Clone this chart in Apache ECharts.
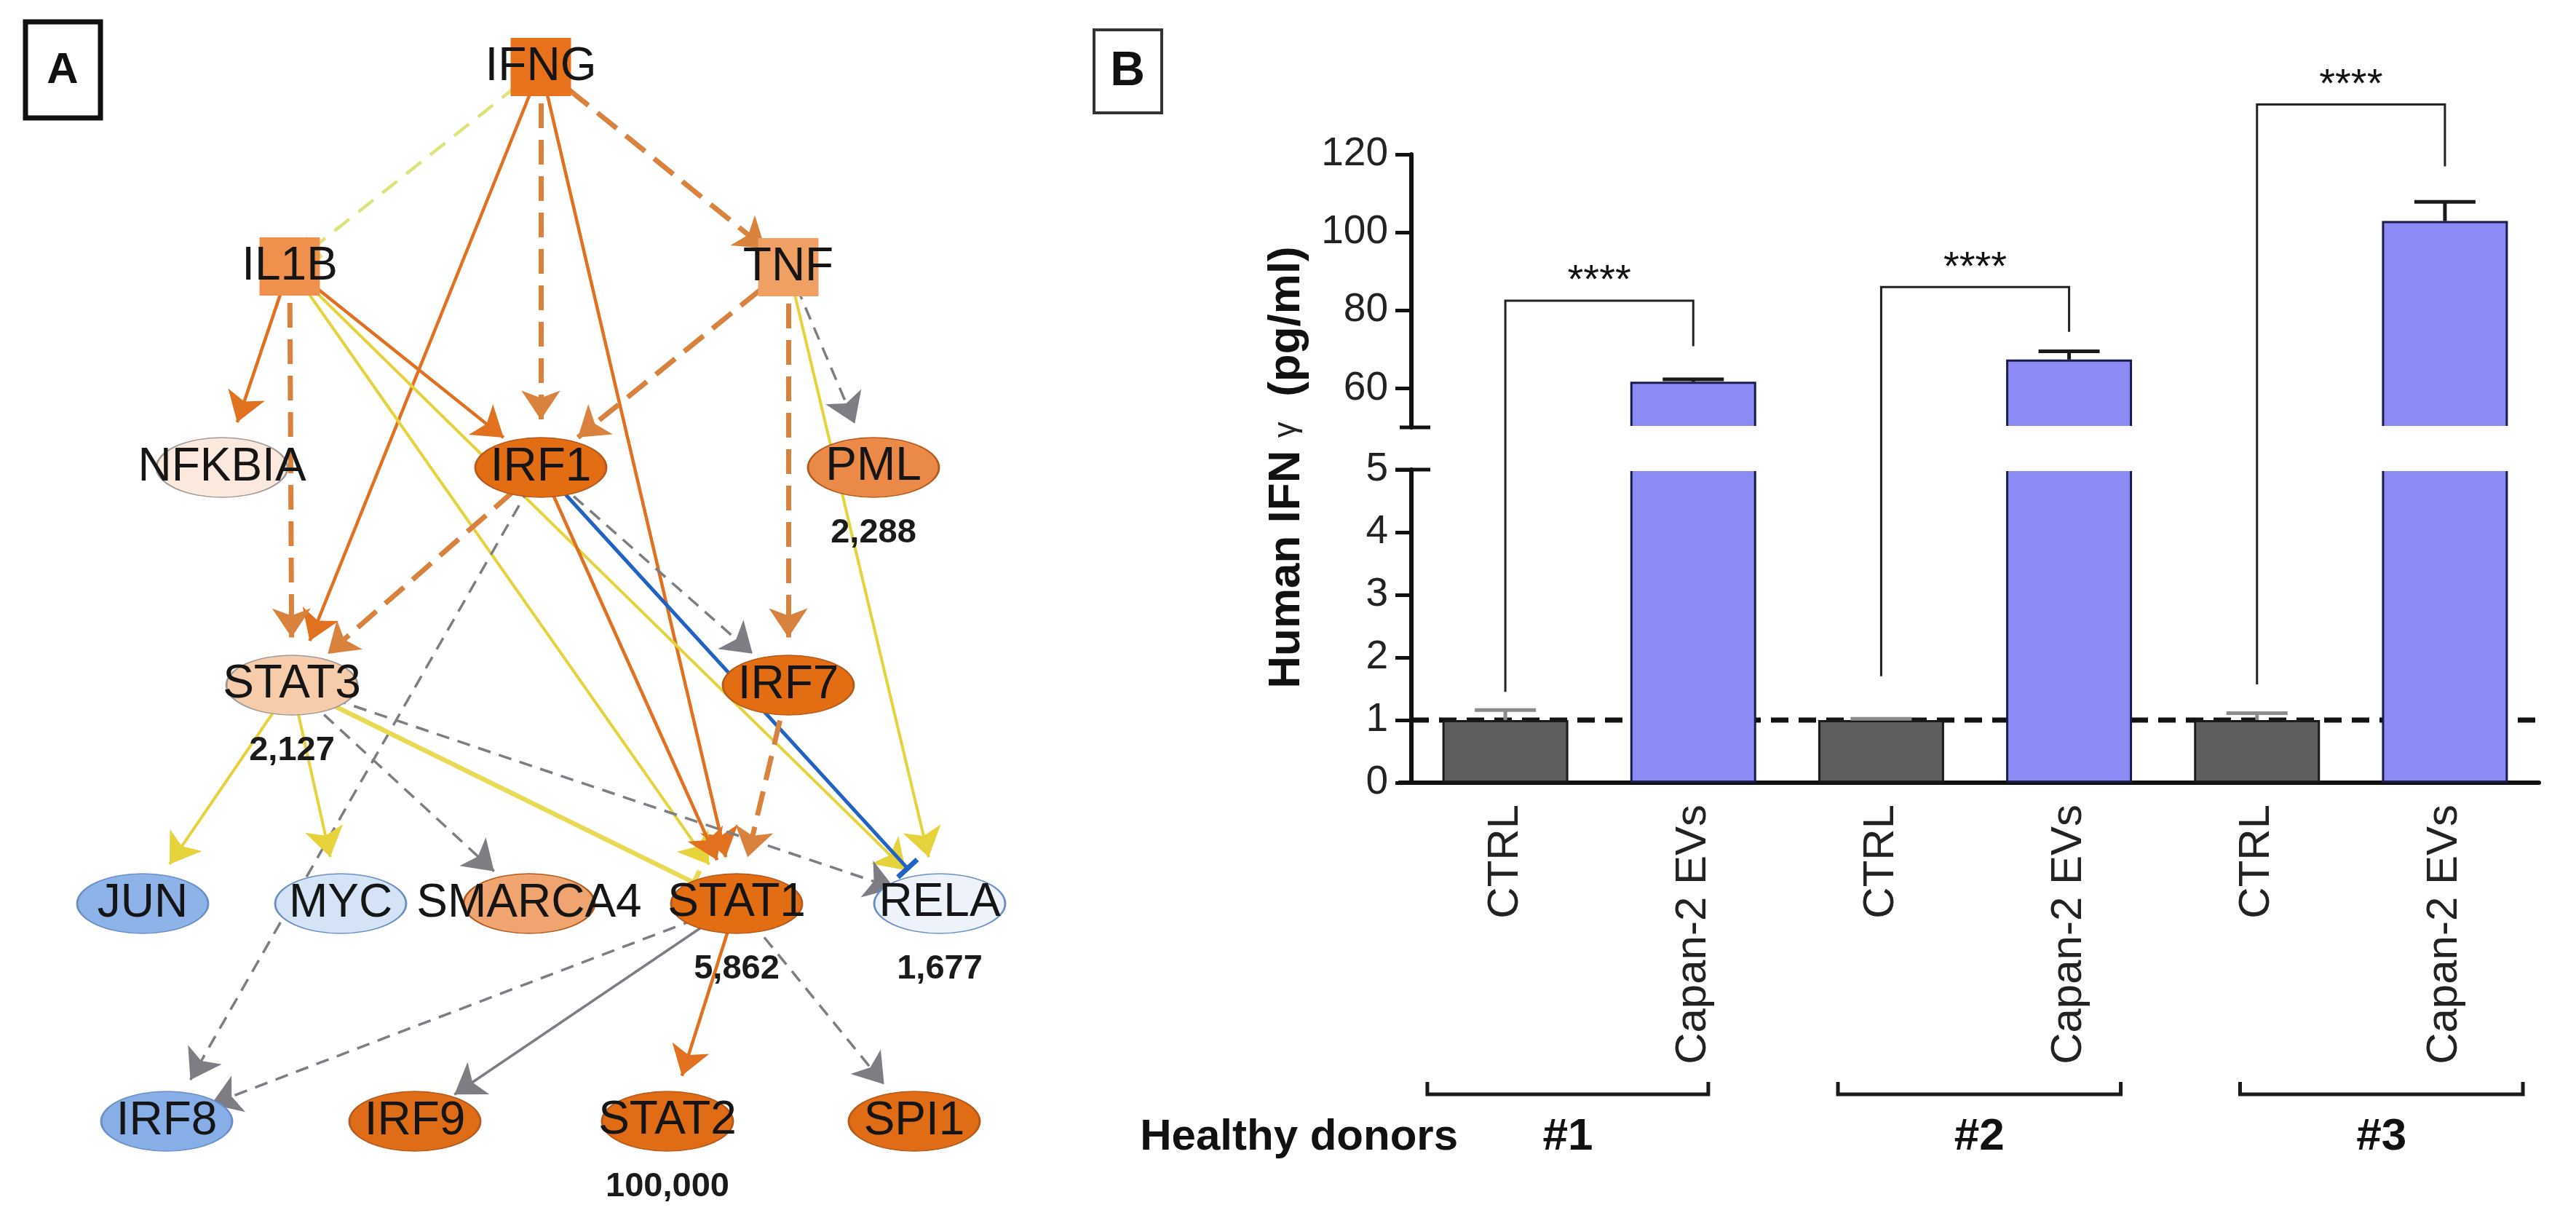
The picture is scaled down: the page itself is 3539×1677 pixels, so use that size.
<!DOCTYPE html>
<html><head><meta charset="utf-8">
<script src="https://cdn.jsdelivr.net/npm/echarts@6/dist/echarts.min.js"></script>
<style>html,body{margin:0;padding:0;background:#fff}#c{width:3539px;height:1677px}</style>
</head><body><div id="c"></div>
<script>
const FONT = "'Liberation Sans', Arial, Helvetica, sans-serif";

// ---------------- Panel A data ----------------
const geneNames = ['IFNG','IL1B','TNF','NFKBIA','IRF1','PML','STAT3','IRF7','JUN','MYC','SMARCA4','STAT1','RELA','IRF8','IRF9','STAT2','SPI1'];
const geneType  = ['cytokine','cytokine','cytokine','other','tf','other','tf','tf','tf','tf','other','tf','tf','tf','tf','tf','other'];
const geneScore = [null,null,null,null,null,2288,2127,null,null,null,null,5862,1677,null,null,100000,null];
const geneFill  = ['#e8721c','#ef914c','#f1a064','#fbe9de','#e36d12','#eb8a48','#f7ccab','#e36d12','#8db3e8','#d4e3f6','#f0a46f','#e36d12','#eef3fb','#87aee6','#df6d18','#e06d15','#e06d15'];
const edgeSource = ['IFNG','IFNG','IFNG','IFNG','IFNG','IL1B','IL1B','IL1B','IL1B','IL1B','TNF','TNF','TNF','TNF','IRF1','IRF1','IRF1','IRF1','IRF1','STAT3','STAT3','STAT3','STAT3','STAT3','IRF7','STAT1','STAT1','STAT1','STAT1'];
const edgeTarget = ['IL1B','STAT3','IRF1','STAT1','TNF','NFKBIA','STAT3','IRF1','STAT1','RELA','IRF1','IRF7','PML','RELA','STAT3','STAT1','RELA','IRF7','IRF8','JUN','MYC','SMARCA4','STAT1','RELA','STAT1','IRF8','IRF9','STAT2','SPI1'];
const edgeKind   = ['yd','o','od','o','od','o','od','o','y','y','od','od','gd','y','od','o','b','gd','gd','y','y','gd','yb','gd','od','gd','g','o','gd'];

// ---------------- Panel B data ----------------
const barCategories = ['CTRL','Capan-2 EVs','CTRL','Capan-2 EVs','CTRL','Capan-2 EVs'];
const donorLabels = ['#1','#2','#3'];
const ctrlMean = [1.0, 1.0, 1.0];
const ctrlSem  = [0.16, 0.02, 0.11];
const evMean   = [61.7, 67.4, 102.9];
const evSem    = [0.6, 2.1, 4.9];
const sigLabel = ['****','****','****'];
const sigLeftFrom = [1.45, 1.70, 1.57];
const sigTopAt    = [82.5, 86.0, 132.8];
const sigRightTo  = [70.8, 74.5, 116.9];
const upperTicks = [60, 80, 100, 120];
const lowerMin = 0, lowerMax = 5, upperMin = 50, upperMax = 120;
const refLevel = 1;

// ---------------- layout / style (not data) ----------------
const nodeLayout = {IFNG:[743,92], IL1B:[398,366], TNF:[1083,367], NFKBIA:[305,642], IRF1:[743,642], PML:[1200,642],
  STAT3:[401,941], IRF7:[1083,941], JUN:[196,1241], MYC:[468,1241], SMARCA4:[727,1241], STAT1:[1012,1241], RELA:[1291,1241],
  IRF8:[229,1540], IRF9:[570,1540], STAT2:[917,1540], SPI1:[1256,1540]};
const edgeStyles = {
  o:  {color:'#e1701f', width:4.5, end:'arrow'},
  od: {color:'#d9823e', width:7, dash:[34,16], end:'arrow'},
  y:  {color:'#e6d23a', width:4, end:'arrow'},
  yb: {color:'#e9da55', width:6.5, end:'rect'},
  yd: {color:'#dde27a', width:4.5, dash:[26,16], end:'rect'},
  g:  {color:'#7d7d84', width:3.5, end:'arrow'},
  gd: {color:'#7d7d84', width:3.5, dash:[18,12], end:'arrow'},
  b:  {color:'#2163c4', width:5, end:'rect'}
};
const groupSpan = [[-0.415,1.08],[1.77,3.275],[3.91,5.415]];

function borderOf(fill){
  if (fill === '#8db3e8' || fill === '#87aee6' || fill === '#d4e3f6' || fill === '#eef3fb') return '#6a8ec6';
  if (fill === '#fbe9de' || fill === '#f7ccab') return '#a09a96';
  return '#b45a1c';
}

const nodes = geneNames.map((g, i) => {
  const sq = geneType[i] === 'cytokine';
  const sc = geneScore[i];
  return {
    name: g, x: nodeLayout[g][0], y: nodeLayout[g][1],
    symbol: sq ? 'rect' : 'circle',
    symbolSize: sq ? [83, 80] : [180, 82],
    itemStyle: {color: geneFill[i], borderColor: sq ? geneFill[i] : borderOf(geneFill[i]), borderWidth: sq ? 0 : 2},
    label: sc == null ? {formatter: g} :
      {formatter: '{n|' + g + '}\n{v|' + sc.toLocaleString('en-US') + '}', offset: [0, 45]}
  };
});
const links = edgeSource.map((s, i) => {
  const st = edgeStyles[edgeKind[i]];
  return {
    source: s, target: edgeTarget[i],
    symbol: ['none', st.end],
    symbolSize: [1, st.end === 'rect' ? [36, 7] : 40],
    lineStyle: {color: st.color, width: st.width, type: st.dash || 'solid', opacity: 1, curveness: 0}
  };
});

const barData = [];
for (let i = 0; i < donorLabels.length; i++) {
  barData.push({value: ctrlMean[i], itemStyle: {color: '#5e5e5e', borderColor: '#1a1a1a', borderWidth: 3}});
  barData.push({value: evMean[i], itemStyle: {color: '#8b8bf6', borderColor: '#1c1c4a', borderWidth: 3}});
}

function errRender(color) {
  return function (params, api) {
    const x = api.value(0), m = api.value(1), e = api.value(2);
    const p0 = api.coord([x, m]), p1 = api.coord([x, m + e]);
    const hw = 42;
    return {type: 'group', children: [
      {type: 'line', shape: {x1: p0[0], y1: p0[1], x2: p1[0], y2: p1[1]}, style: {stroke: color, lineWidth: 5}},
      {type: 'line', shape: {x1: p1[0] - hw, y1: p1[1], x2: p1[0] + hw, y2: p1[1]}, style: {stroke: color, lineWidth: 5}}
    ]};
  };
}

const axisLineStyle = {color: '#111', width: 6};
const tickStyle = {color: '#111', width: 5};
const labelStyle = {color: '#222', fontFamily: FONT, fontSize: 55, margin: 32};

const option = {
  animation: false,
  backgroundColor: '#ffffff',
  grid: [
    {left: 1939, top: 212, width: 1549, height: 375, containLabel: false, outerBoundsMode: 'none'},
    {left: 1939, top: 645, width: 1549, height: 430, containLabel: false, outerBoundsMode: 'none'}
  ],
  xAxis: [
    {gridIndex: 0, type: 'category', data: barCategories, show: false},
    {gridIndex: 1, type: 'category', data: barCategories,
      axisLine: {lineStyle: axisLineStyle}, axisTick: {alignWithLabel: true, length: 22, lineStyle: tickStyle},
      axisLabel: {rotate: 90, color: '#222', fontFamily: FONT, fontSize: 60, margin: 30, interval: 0}},
    {gridIndex: 1, type: 'value', min: 0, max: 1, show: false}
  ],
  yAxis: [
    {gridIndex: 0, type: 'value', min: upperMin, max: upperMax, splitLine: {show: false},
      axisLine: {show: true, lineStyle: axisLineStyle},
      axisTick: {show: true, length: 22, lineStyle: tickStyle, customValues: upperTicks},
      axisLabel: Object.assign({customValues: upperTicks}, labelStyle)},
    {gridIndex: 1, type: 'value', min: lowerMin, max: lowerMax, interval: 1, splitLine: {show: false},
      axisLine: {show: true, lineStyle: axisLineStyle},
      axisTick: {show: true, length: 22, lineStyle: tickStyle},
      axisLabel: labelStyle}
  ],
  series: [
    {type: 'graph', layout: 'none', left: 196, top: 92, width: 1095, height: 1448, roam: false, silent: true,
      data: nodes, links: links,
      label: {show: true, position: 'inside', fontFamily: FONT, fontSize: 64, color: '#151515',
        rich: {n: {fontFamily: FONT, fontSize: 64, color: '#151515', lineHeight: 91},
               v: {fontFamily: FONT, fontSize: 47, fontWeight: 'bold', color: '#1a1a1a', lineHeight: 91}}},
      lineStyle: {opacity: 1}, emphasis: {disabled: true}, z: 2},
    {type: 'line', xAxisIndex: 2, yAxisIndex: 1, data: [[0, refLevel], [1, refLevel]], symbol: 'none', silent: true,
      lineStyle: {color: '#111', width: 7, type: [24, 14]}, z: 1},
    {type: 'bar', xAxisIndex: 0, yAxisIndex: 0, data: barData, barWidth: '67%', silent: true, z: 3},
    {type: 'bar', xAxisIndex: 1, yAxisIndex: 1, data: barData, barWidth: '67%', silent: true, z: 3},
    {type: 'custom', xAxisIndex: 0, yAxisIndex: 0, data: evMean.map((m, i) => [2 * i + 1, m, evSem[i]]),
      renderItem: errRender('#1a1a1a'), silent: true, z: 4},
    {type: 'custom', xAxisIndex: 1, yAxisIndex: 1, data: ctrlMean.map((m, i) => [2 * i, m, ctrlSem[i]]),
      renderItem: errRender('#8c8c8c'), silent: true, z: 4}
  ]
};

const chart = echarts.init(document.getElementById('c'), null, {renderer: 'canvas'});
chart.setOption(option);

// ---------- annotations placed through the axes ----------
const P = (grid, cat, val) => chart.convertToPixel({xAxisIndex: grid === 0 ? 0 : 1, yAxisIndex: grid}, [cat, val]);
const cx0 = P(1, 0, 0)[0], step = P(1, 1, 0)[0] - cx0;
const catX = t => cx0 + t * step;
const axisX = chart.convertToPixel({xAxisIndex: 2, yAxisIndex: 1}, [0, 0])[0];
const gridRight = chart.convertToPixel({xAxisIndex: 2, yAxisIndex: 1}, [1, 0])[0];
const axisY = P(1, 0, lowerMin)[1];
const yBreakTop = P(0, 0, upperMin)[1];
const yBreakBottom = P(1, 0, lowerMax)[1];

function txt(x, y, text, size, bold, extra) {
  return Object.assign({type: 'text', x: x, y: y, z: 20, silent: true,
    style: {text: text, fontFamily: FONT, fontSize: size, fontWeight: bold ? 'bold' : 'normal', fill: '#111',
      textAlign: 'center', textVerticalAlign: 'middle', align: 'center', verticalAlign: 'middle'}}, extra || {});
}

const gfx = [];
// panel tags
gfx.push({type: 'rect', z: 20, silent: true, shape: {x: 35, y: 30, width: 103, height: 132}, style: {fill: '#fff', stroke: '#111', lineWidth: 7}});
gfx.push(txt(86, 97, 'A', 60, true));
gfx.push({type: 'rect', z: 20, silent: true, shape: {x: 1503, y: 41, width: 93, height: 114}, style: {fill: '#fff', stroke: '#333', lineWidth: 4}});
gfx.push(txt(1549, 99, 'B', 66, true));
// x axis line continues a little left of the y axis
gfx.push({type: 'line', z: 11, silent: true, shape: {x1: axisX - 18, y1: axisY, x2: axisX, y2: axisY}, style: {stroke: '#111', lineWidth: 6}});
// axis break
gfx.push({type: 'rect', z: 10, silent: true, shape: {x: axisX + 4, y: yBreakTop - 2, width: gridRight + 14 - axisX, height: yBreakBottom - yBreakTop + 4}, style: {fill: '#fff'}});
gfx.push({type: 'line', z: 11, silent: true, shape: {x1: axisX - 16, y1: yBreakTop, x2: axisX + 26, y2: yBreakTop}, style: {stroke: '#111', lineWidth: 5}});
gfx.push({type: 'line', z: 11, silent: true, shape: {x1: axisX - 22, y1: yBreakBottom, x2: axisX + 26, y2: yBreakBottom}, style: {stroke: '#111', lineWidth: 5}});
// significance brackets
for (let i = 0; i < donorLabels.length; i++) {
  const xl = catX(2 * i), xr = catX(2 * i + 1);
  const yl = P(1, 2 * i, sigLeftFrom[i])[1];
  const yt = P(0, 2 * i, sigTopAt[i])[1];
  const yr = P(0, 2 * i + 1, sigRightTo[i])[1];
  gfx.push({type: 'polyline', z: 12, silent: true, shape: {points: [[xl, yl], [xl, yt], [xr, yt], [xr, yr]]}, style: {stroke: '#222', lineWidth: 3, fill: null}});
  gfx.push(txt((xl + xr) / 2, yt - 26, sigLabel[i], 56, false));
}
// donor group brackets
for (let i = 0; i < donorLabels.length; i++) {
  const xl = catX(groupSpan[i][0]), xr = catX(groupSpan[i][1]);
  const y1 = axisY + 411, y2 = axisY + 428;
  gfx.push({type: 'polyline', z: 12, silent: true, shape: {points: [[xl, y1], [xl, y2], [xr, y2], [xr, y1]]}, style: {stroke: '#1a1a1a', lineWidth: 5, fill: null}});
  gfx.push(txt((xl + xr) / 2, axisY + 487, donorLabels[i], 62, true));
}
gfx.push(txt(2003, axisY + 487, 'Healthy donors', 60, true, {}));
gfx[gfx.length - 1].style.textAlign = 'right';
gfx[gfx.length - 1].style.align = 'right';
// y axis title
gfx.push({type: 'text', x: 1768, y: (yBreakTop + yBreakBottom) / 2 + 26, rotation: Math.PI / 2, z: 20, silent: true,
  style: {text: '{a|Human IFN }{g|γ}{a|  (pg/ml)}', textAlign: 'center', textVerticalAlign: 'middle', align: 'center', verticalAlign: 'middle',
    rich: {a: {fontFamily: FONT, fontSize: 62, fontWeight: 'bold', fill: '#111', color: '#111'},
           g: {fontFamily: FONT, fontSize: 44, fontWeight: 'normal', fill: '#222', color: '#222'}}}});

chart.setOption({graphic: gfx});
</script>
</body></html>
